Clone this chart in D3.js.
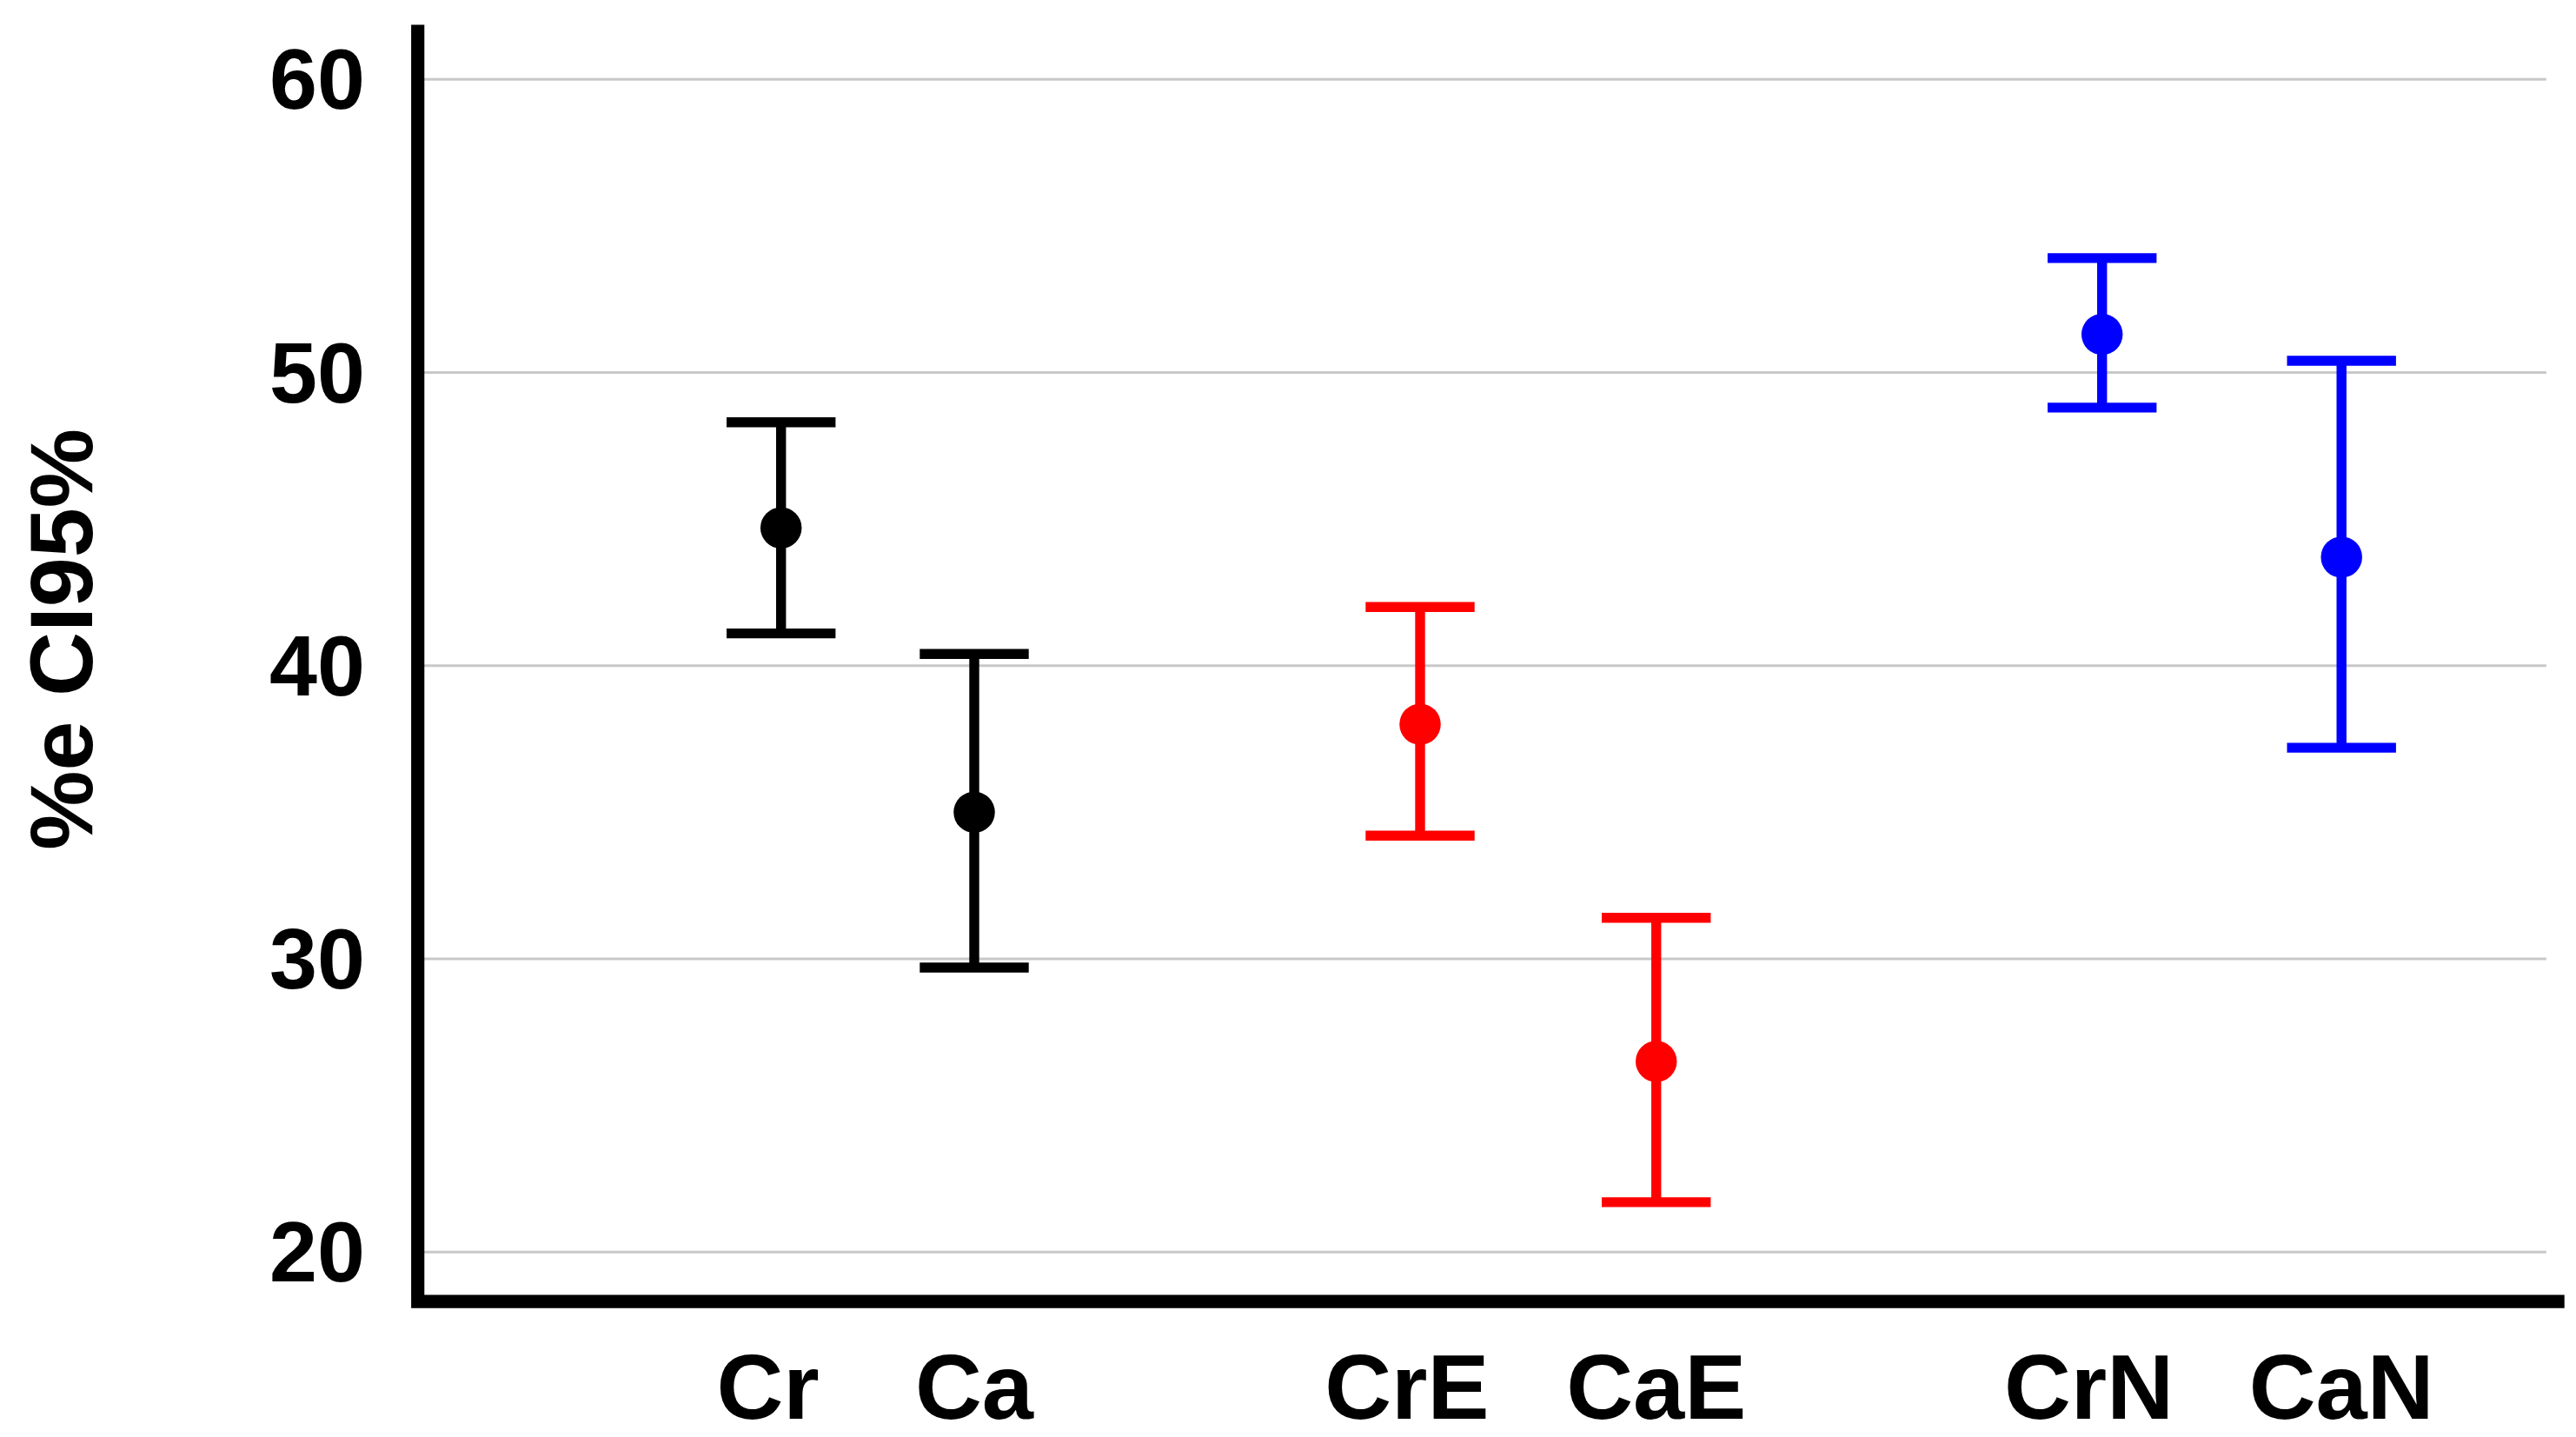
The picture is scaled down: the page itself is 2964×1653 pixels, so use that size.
<!DOCTYPE html><html><head><meta charset="utf-8">
<script src="https://cdn.jsdelivr.net/npm/d3@7"></script>
<style>body{margin:0;background:#fff}</style></head><body>
<script>
const categories=["Cr","Ca","CrE","CaE","CrN","CaN"];
const means=[44.7,35.0,38.0,26.5,51.3,43.7];
const uppers=[48.3,40.4,42.0,31.4,53.9,50.4];
const lowers=[41.1,29.7,34.2,21.7,48.8,37.2];
const colors=["#000","#000","#f00","#f00","#00f","#00f"];
const positions=[473,590,860,1003,1273,1418];
const yTicks=[20,30,40,50,60];
const svg=d3.select("body").append("svg").attr("width",2964).attr("height",1653).attr("viewBox","0 0 1560 870")
 .style("font-family","'Liberation Sans',Arial,sans-serif").style("font-weight","bold");
const y=d3.scaleLinear().domain([20,60]).range([758,48]);
const x=d3.scaleOrdinal().domain(categories).range(positions);
svg.selectAll("line.g").data(yTicks).join("line").attr("x1",253).attr("x2",1542).attr("y1",d=>y(d)).attr("y2",d=>y(d)).attr("stroke","#c8c8c8").attr("stroke-width",1.5);
svg.selectAll("text.t").data(yTicks).join("text").attr("x",221).attr("y",d=>y(d)+18).attr("text-anchor","end").attr("font-size",52).text(d=>d);
svg.append("path").attr("d","M253,15V788H1553").attr("fill","none").attr("stroke","#000").attr("stroke-width",8);
categories.forEach((c,i)=>{
 const g=svg.append("g").attr("stroke",colors[i]).attr("stroke-width",6);
 const cx=x(c);
 g.append("line").attr("x1",cx).attr("x2",cx).attr("y1",y(uppers[i])).attr("y2",y(lowers[i]));
 [uppers[i],lowers[i]].forEach(v=>g.append("line").attr("x1",cx-33).attr("x2",cx+33).attr("y1",y(v)).attr("y2",y(v)));
 svg.append("circle").attr("cx",cx).attr("cy",y(means[i])).attr("r",12.5).attr("fill",colors[i]);
 svg.append("text").attr("x",cx-(i%2?0:8)).attr("y",859).attr("text-anchor","middle").attr("font-size",56).text(c);
});
svg.append("text").attr("transform","translate(56,387) rotate(-90)").attr("text-anchor","middle").attr("font-size",54).text("%e CI95%");
</script></body></html>
